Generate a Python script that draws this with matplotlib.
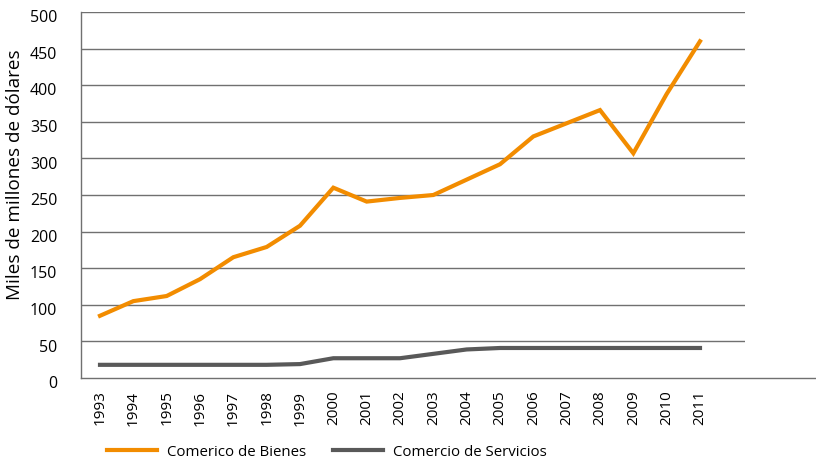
import matplotlib
matplotlib.use('Agg')
import matplotlib.pyplot as plt
import matplotlib.transforms as mtransforms
from matplotlib.lines import Line2D

plt.rcParams['font.family'] = ['Open Sans', 'DejaVu Sans']

years = list(range(1993, 2012))
bienes = [85, 105, 112, 135, 165, 179, 208, 260, 241, 246, 250, 271, 292, 330, 348, 366, 307, 388, 460]
servicios = [18, 18, 18, 18, 18, 18, 19, 27, 27, 27, 33, 39, 41, 41, 41, 41, 41, 41, 41]
yticks = [0, 50, 100, 150, 200, 250, 300, 350, 400, 450, 500]

orange = '#F28C00'
gray = '#595959'

fig = plt.figure(figsize=(8.16, 4.63), dpi=100)
ax = fig.add_axes([81/816, 1 - 378/463, (745-81)/816, (378-12)/463])

xs = range(len(years))
ax.plot(xs, bienes, color=orange, linewidth=3, solid_joinstyle='miter', label='Comerico de Bienes')
ax.plot(xs, servicios, color=gray, linewidth=3, solid_joinstyle='miter', label='Comercio de Servicios')

ax.set_xlim(-0.57, 19.35)
ax.set_ylim(0, 500)
ax.set_yticks(yticks)
ax.set_xticks(list(xs))
ax.set_xticklabels([str(y) for y in years], rotation=90, fontsize=11)
ax.tick_params(axis='x', length=0, pad=9)
ax.tick_params(axis='y', length=0, pad=17, labelsize=11.5)
for lbl in ax.get_yticklabels():
    lbl.set_transform(lbl.get_transform() + mtransforms.ScaledTranslation(0, -3/72, fig.dpi_scale_trans))

for y in yticks[1:]:
    ax.axhline(y, color='#707070', linewidth=1, zorder=0)

for s in ['top', 'right', 'bottom']:
    ax.spines[s].set_visible(False)
ax.spines['left'].set_color('#707070')
ax.spines['left'].set_linewidth(1)

# x axis line runs to the figure edge
ax.add_line(Line2D([0, 816/664], [0, 0], transform=ax.transAxes, color='#707070',
                   linewidth=1, clip_on=False))

ax.set_ylabel('Miles de millones de dólares', fontsize=13.6)
ax.yaxis.set_label_coords(-57/664, 0.555)

fig.legend(loc='center left', bbox_to_anchor=(107/816, 1 - 452/463), ncol=2, frameon=False,
           fontsize=10.8, handlelength=3.33, handletextpad=0.67, columnspacing=1.8,
           borderaxespad=0, borderpad=0)

fig.savefig('out.png', dpi=100)
